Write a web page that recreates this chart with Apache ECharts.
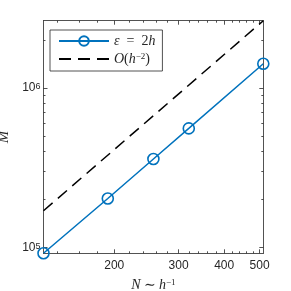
<!DOCTYPE html>
<html><head><meta charset="utf-8">
<script src="https://cdn.jsdelivr.net/npm/echarts@6/dist/echarts.min.js"></script>
<style>html,body{margin:0;padding:0;background:#fff}#c{width:291px;height:291px}</style>
</head><body><div id="c"></div>
<script>
// ---- data ----
const N = [128, 192, 256, 320, 512];
const M = [92000, 203000, 359000, 558000, 1418000];
const refN = [128, 512];
const refM = [170000, 2640000];
const xTicks = [200, 300, 400, 500];
const xMinorTicks = [140, 160, 180, 220, 240, 260, 280, 320, 340, 360, 380, 420, 440, 460, 480];
const yTicks = [1e5, 1e6];
const yTickExp = ['5', '6'];
const yMinorTicks = [2e5, 3e5, 4e5, 5e5, 6e5, 7e5, 8e5, 9e5, 2e6];
const xRange = [128, 512];
const yRange = [92000, 2640000];
const seriesNames = ['ε = 2h', 'O(h^-2)'];

// ---- styles ----
const AX = '#262626';
const BLUE = '#0072BD';
const SANS = 'Liberation Sans, Arial, Helvetica, sans-serif';
const SERIF = 'Liberation Serif, DejaVu Serif, Times New Roman, serif';
const richMath = {
  i: { fontFamily: SERIF, fontStyle: 'italic', fontSize: 14, color: AX },
  r: { fontFamily: SERIF, fontSize: 14, color: AX },
  s: { fontFamily: SERIF, fontSize: 9, color: AX, verticalAlign: 'top', lineHeight: 9 },
  c: { fontFamily: SERIF, fontStyle: 'italic', fontSize: 14, color: AX }
};

function xAx(pos, ticks, len, labels, line) {
  return {
    type: 'log', logBase: 10, position: pos, min: xRange[0], max: xRange[1],
    axisLine: { show: line, lineStyle: { color: AX, width: 0.8 } },
    axisTick: { show: true, inside: true, length: len, customValues: ticks, lineStyle: { color: AX, width: 0.8 } },
    axisLabel: labels ? { show: true, customValues: xTicks, color: AX, fontFamily: SANS, fontSize: 12, margin: 6 } : { show: false },
    minorTick: { show: false }, splitLine: { show: false }
  };
}
function yAx(pos, ticks, len, labels, line) {
  return {
    type: 'log', logBase: 10, position: pos, min: yRange[0], max: yRange[1],
    axisLine: { show: line, lineStyle: { color: AX, width: 0.8 } },
    axisTick: { show: true, inside: true, length: len, customValues: ticks, lineStyle: { color: AX, width: 0.8 } },
    axisLabel: labels ? {
      show: true, customValues: yTicks, margin: 3,
      formatter: function (v) { const k = yTicks.indexOf(v); return '{b|10}{e|' + (k >= 0 ? yTickExp[k] : '') + '}'; },
      rich: { b: { fontFamily: SANS, fontSize: 12, color: AX }, e: { fontFamily: SANS, fontSize: 9, color: AX, verticalAlign: 'top', lineHeight: 9 } }
    } : { show: false },
    minorTick: { show: false }, splitLine: { show: false }
  };
}

const xAxes = [xAx('bottom', xTicks, 4, true, true), xAx('bottom', xMinorTicks, 2, false, false),
               xAx('top', xTicks, 4, false, true), xAx('top', xMinorTicks, 2, false, false)];
xAxes[0].name = '{i|N} {r|∼} {i|h}{s|−1}';
xAxes[0].nameLocation = 'middle';
xAxes[0].nameGap = 25;
xAxes[0].nameTextStyle = { rich: richMath };

const yAxes = [yAx('left', yTicks, 4, true, true), yAx('left', yMinorTicks, 2, false, false),
               yAx('right', yTicks, 4, false, true), yAx('right', yMinorTicks, 2, false, false)];
yAxes[0].name = 'M';
yAxes[0].nameLocation = 'middle';
yAxes[0].nameGap = 27;
yAxes[0].nameRotate = 90;
yAxes[0].nameTextStyle = { fontFamily: SERIF, fontStyle: 'italic', fontSize: 15, color: AX };

const legendRich = ['{i|ε}{r|  =  2}{i|h}', '{c|O}{r|(}{i|h}{s|−2}{r|)}'];

const chart = echarts.init(document.getElementById('c'), null, { renderer: 'canvas' });
chart.setOption({
  animation: false,
  backgroundColor: '#fff',
  grid: { left: 43.5, right: 27.7, top: 20.7, bottom: 37.7, containLabel: false, outerBoundsMode: 'none' },
  xAxis: xAxes,
  yAxis: yAxes,
  legend: {
    orient: 'vertical', left: 50, top: 30,
    padding: [4, 7, 5, 8], itemWidth: 50, itemHeight: 12, itemGap: 4,
    backgroundColor: '#fff', borderColor: AX, borderWidth: 0.8, borderRadius: 0,
    data: seriesNames,
    formatter: function (name) { return legendRich[seriesNames.indexOf(name)]; },
    textStyle: { rich: richMath }
  },
  series: [
    {
      name: seriesNames[0], type: 'line', clip: false,
      data: N.map((n, i) => [n, M[i]]),
      symbol: 'circle', symbolSize: 11,
      lineStyle: { color: BLUE, width: 1.5 },
      itemStyle: { color: 'rgba(0,0,0,0)', borderColor: BLUE, borderWidth: 1.6 },
      z: 3
    },
    {
      name: seriesNames[1], type: 'line', clip: false,
      data: refN.map((n, i) => [n, refM[i]]),
      symbol: 'none',
      lineStyle: { color: '#000', width: 1.5, type: [12, 7] },
      itemStyle: { color: 'rgba(0,0,0,0)', borderColor: 'rgba(0,0,0,0)', borderWidth: 0 },
      z: 2
    }
  ]
});
</script>
</body></html>
